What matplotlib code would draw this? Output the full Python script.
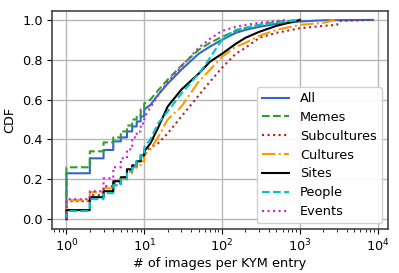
import matplotlib
matplotlib.use("Agg")
import matplotlib.pyplot as plt
import numpy as np

# ---- data ----
labels = ["All", "Memes", "Subcultures", "Cultures", "Sites", "People", "Events"]

# discrete part: x = 1..10 images
disc_x = [1, 2, 3, 4, 5, 6, 7, 8, 9, 10]
all_disc = [0.23, 0.305, 0.347, 0.39, 0.41, 0.44, 0.465, 0.49, 0.515, 0.55]
memes_disc = [0.26, 0.34, 0.385, 0.41, 0.44, 0.47, 0.50, 0.52, 0.55, 0.58]
subc_disc = [0.09, 0.12, 0.165, 0.18, 0.21, 0.24, 0.26, 0.29, 0.31, 0.33]
cult_disc = [0.095, 0.135, 0.155, 0.17, 0.20, 0.23, 0.26, 0.27, 0.29, 0.32]
sites_disc = [0.045, 0.11, 0.14, 0.19, 0.21, 0.25, 0.27, 0.29, 0.32, 0.34]
people_disc = [0.04, 0.10, 0.13, 0.17, 0.20, 0.24, 0.27, 0.30, 0.32, 0.36]
events_disc = [0.10, 0.14, 0.205, 0.26, 0.305, 0.35, 0.41, 0.44, 0.48, 0.51]

# continuous part (x >= 10)
all_x = [10, 12, 15, 20, 30, 50, 70, 100, 150, 200, 300, 500, 1000, 2000, 8700]
all_y = [0.55, 0.573, 0.623, 0.68, 0.75, 0.83, 0.866, 0.90, 0.935, 0.95, 0.965, 0.98, 0.992, 0.998, 1.0]
memes_x = [10, 12, 15, 20, 30, 50, 70, 100, 150, 200, 300, 500, 1000]
memes_y = [0.58, 0.60, 0.645, 0.70, 0.77, 0.85, 0.885, 0.915, 0.945, 0.96, 0.975, 0.99, 1.0]
subc_x = [10, 12, 15, 20, 30, 50, 70, 100, 150, 200, 300, 500, 1000, 2000, 3000, 3200, 8700]
subc_y = [0.33, 0.36, 0.38, 0.43, 0.515, 0.62, 0.69, 0.76, 0.83, 0.86, 0.91, 0.935, 0.958, 0.97, 0.975, 0.995, 1.0]
cult_x = [10, 12, 15, 20, 30, 50, 70, 100, 150, 200, 300, 500, 1000, 2000, 2800]
cult_y = [0.32, 0.35, 0.41, 0.50, 0.565, 0.69, 0.75, 0.815, 0.865, 0.885, 0.92, 0.95, 0.975, 0.985, 1.0]
sites_x = [10, 12, 15, 20, 30, 50, 70, 100, 150, 200, 300, 500, 800, 1000]
sites_y = [0.34, 0.38, 0.457, 0.565, 0.65, 0.73, 0.79, 0.83, 0.88, 0.91, 0.94, 0.97, 0.99, 1.0]
people_x = [10, 12, 15, 20, 30, 50, 60, 70, 85, 100, 120, 150, 200, 300, 500, 1000]
people_y = [0.36, 0.40, 0.48, 0.54, 0.63, 0.73, 0.77, 0.81, 0.86, 0.90, 0.925, 0.95, 0.96, 0.975, 0.985, 1.0]
events_x = [10, 12, 15, 20, 30, 50, 70, 100, 150, 200, 300, 500, 700]
events_y = [0.51, 0.56, 0.62, 0.69, 0.765, 0.86, 0.905, 0.945, 0.965, 0.975, 0.985, 0.995, 1.0]

series = [
    (all_disc, all_x, all_y, "#3366cc", "-"),
    (memes_disc, memes_x, memes_y, "#2ca02c", "--"),
    (subc_disc, subc_x, subc_y, "#b22222", ":"),
    (cult_disc, cult_x, cult_y, "#ff9900", "-."),
    (sites_disc, sites_x, sites_y, "black", "-"),
    (people_disc, people_x, people_y, "#00c5c8", "--"),
    (events_disc, events_x, events_y, "#cc22cc", ":"),
]

FS = 9.3
fig = plt.figure(figsize=(3.99, 2.73), dpi=100)
ax = fig.add_axes([0.130, 0.161, 0.842, 0.799])

for lab, (dy, cx, cy, col, ls) in zip(labels, series):
    xs = [disc_x[0]]
    ys = [0.0]
    for i in range(len(disc_x)):
        xs.append(disc_x[i]); ys.append(dy[i])
        if i + 1 < len(disc_x):
            xs.append(disc_x[i + 1]); ys.append(dy[i])
    xs += list(cx[1:]); ys += list(cy[1:])
    ax.plot(xs, ys, color=col, ls=ls, lw=1.5, label=lab)

ax.set_xscale("log")
ax.set_xlim(0.65, 13500)
ax.set_ylim(-0.05, 1.045)
ax.set_yticks([0.0, 0.2, 0.4, 0.6, 0.8, 1.0])
ax.set_xticks([1, 10, 100, 1000, 10000])
ax.grid(True, which="major", color="#b8b8b8", lw=1.0)
ax.set_axisbelow(True)
for s in ax.spines.values():
    s.set_color("#444444")
    s.set_linewidth(1.2)
ax.tick_params(labelsize=FS, colors="black", pad=3)
ax.set_xlabel("# of images per KYM entry", fontsize=FS, labelpad=2)
ax.set_ylabel("CDF", fontsize=FS, labelpad=4)
leg = ax.legend(loc="lower right", fontsize=FS, handlelength=2.1,
                labelspacing=0.45, borderaxespad=0.45, framealpha=0.9,
                handletextpad=0.85)
fig.savefig("out.png", dpi=100)
